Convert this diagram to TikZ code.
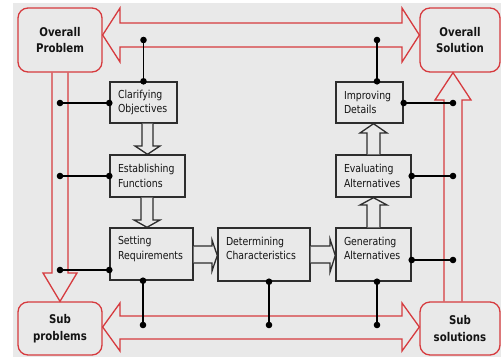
\documentclass[tikz,border=0pt]{standalone}
\usepackage{fontspec}
\setmainfont{DejaVu Sans}[FakeStretch=0.85]
\usetikzlibrary{calc}
\definecolor{bg}{RGB}{233,233,233}
\definecolor{redl}{RGB}{214,58,62}
\definecolor{boxl}{RGB}{45,45,45}
\definecolor{txt}{RGB}{20,20,20}
\begin{document}
\begin{tikzpicture}[x=1pt,y=-1pt,
  gbox/.style={draw=boxl, fill=bg, line width=1.4pt, align=left, inner xsep=8pt, inner ysep=0pt,
    text=txt, font=\fontsize{11}{14.5}\selectfont},
  lowrow/.style={text depth=27pt},
  rbox/.style={draw=redl, fill=bg, line width=1.3pt, rounded corners=10pt, align=center,
    text=txt, font=\bfseries\fontsize{12}{16.5}\selectfont, inner sep=0pt},
  rarrow/.style={draw=redl, line width=1.3pt, line join=miter},
  barrow/.style={draw=boxl, fill=bg, line width=1.3pt, line join=miter},
  conn/.style={draw=black, line width=1.5pt}
]
\useasboundingbox (0,0) rectangle (501,357);
\fill[white] (0,0) rectangle (501,357);
\fill[bg] (13,3) rectangle (501,357);

% red boxes
\node[rbox, minimum width=84pt, minimum height=64pt] (op) at (60,40) {Overall\\Problem};
\node[rbox, minimum width=80pt, minimum height=64pt] (os) at (460,40) {Overall\\Solution};
\node[rbox, minimum width=84pt, minimum height=53pt] (sp) at (60,328.5) {Sub\\problems};
\node[rbox, minimum width=80pt, minimum height=53pt] (ss) at (460,328.5) {Sub\\solutions};

% red block arrows
\draw[rarrow] (op.east |- 0,35) -- (120,8) -- (120,23) -- (402,23) -- (402,8) -- (os.west |- 0,35)
  -- (402,62) -- (402,47) -- (120,47) -- (120,62) -- cycle;
\draw[rarrow] (sp.east |- 0,327) -- (120,303) -- (120,316) -- (402,316) -- (402,303) -- (ss.west |- 0,327)
  -- (402,351) -- (402,339) -- (120,339) -- (120,351) -- cycle;
\draw[rarrow] (52,0 |- op.south) -- (52,273) -- (43,273) -- (60,0 |- sp.north) -- (77,273) -- (68,273) -- (68,0 |- op.south);
\draw[rarrow] (444,0 |- ss.north) -- (444,100) -- (435,100) -- (453,0 |- os.south) -- (471,100) -- (462,100) -- (462,0 |- ss.north);

% gray boxes
\node[gbox, text width=51pt, minimum height=41pt] (clar) at (143.5,102.5) {Clarifying\\Objectives};
\node[gbox, text width=59pt, minimum height=42pt] (estab) at (147.5,176) {Establishing\\Functions};
\node[gbox, lowrow, text width=67pt, minimum height=52pt] (setr) at (151.5,254) {Setting\\Requirements};
\node[gbox, lowrow, text width=76pt, minimum height=53pt] (det) at (264,254.5) {Determining\\Characteristics};
\node[gbox, lowrow, text width=59pt, minimum height=53pt] (gen) at (373.5,254.5) {Generating\\Alternatives};
\node[gbox, text width=59pt, minimum height=42pt] (eval) at (373.5,176) {Evaluating\\Alternatives};
\node[gbox, text width=51pt, minimum height=41pt] (impr) at (369.5,102.5) {Improving\\Details};

% hollow block arrows between boxes
\draw[barrow] (142,0 |- clar.south) -- (142,146) -- (135,146) -- (147.5,0 |- estab.north) -- (160,146) -- (153,146) -- (153,0 |- clar.south);
\draw[barrow] (141,0 |- estab.south) -- (141,220) -- (134,220) -- (147,0 |- setr.north) -- (160,220) -- (153,220) -- (153,0 |- estab.south);
\draw[barrow] (setr.east |- 0,246) -- (212,246) -- (212,240) -- (det.west |- 0,255.5) -- (212,271) -- (212,263) -- (setr.east |- 0,263);
\draw[barrow] (det.east |- 0,246) -- (330,246) -- (330,239) -- (gen.west |- 0,255.5) -- (330,272) -- (330,263) -- (det.east |- 0,263);
\draw[barrow] (367,0 |- gen.north) -- (367,205) -- (360,205) -- (373.5,0 |- eval.south) -- (387,205) -- (380,205) -- (380,0 |- gen.north);
\draw[barrow] (367,0 |- eval.north) -- (367,133) -- (360,133) -- (373.5,0 |- impr.south) -- (387,133) -- (380,133) -- (380,0 |- eval.north);

% connector end points
\coordinate (t1) at (143.5,40);
\coordinate (t2) at (377,40);
\coordinate (b1) at (143,325);
\coordinate (b2) at (269,325);
\coordinate (b3) at (377,325);
\coordinate (l1) at (60,103);
\coordinate (l2) at (60,176);
\coordinate (l3) at (60,270);
\coordinate (r1) at (453,103);
\coordinate (r2) at (453,176);
\coordinate (r3) at (453,260);

\draw[conn] (t1) -- (t1 |- clar.north);
\draw[conn] (t2) -- (t2 |- impr.north);
\draw[conn] (b1) -- (b1 |- setr.south);
\draw[conn] (b2) -- (b2 |- det.south);
\draw[conn] (b3) -- (b3 |- gen.south);
\draw[conn] (l1) -- (l1 -| clar.west);
\draw[conn] (l2) -- (l2 -| estab.west);
\draw[conn] (l3) -- (l3 -| setr.west);
\draw[conn] (r1) -- (r1 -| impr.east);
\draw[conn] (r2) -- (r2 -| eval.east);
\draw[conn] (r3) -- (r3 -| gen.east);

\foreach \p in {t1,t2,b1,b2,b3,l1,l2,l3,r1,r2,r3}
  \fill (\p) circle (3.3pt);
\fill (t1 |- clar.north) circle (3.3pt);
\fill (t2 |- impr.north) circle (3.3pt);
\fill (b1 |- setr.south) circle (3.3pt);
\fill (b2 |- det.south) circle (3.3pt);
\fill (b3 |- gen.south) circle (3.3pt);
\fill (l1 -| clar.west) circle (3.3pt);
\fill (l2 -| estab.west) circle (3.3pt);
\fill (l3 -| setr.west) circle (3.3pt);
\fill (r1 -| impr.east) circle (3.3pt);
\fill (r2 -| eval.east) circle (3.3pt);
\fill (r3 -| gen.east) circle (3.3pt);
\end{tikzpicture}
\end{document}
